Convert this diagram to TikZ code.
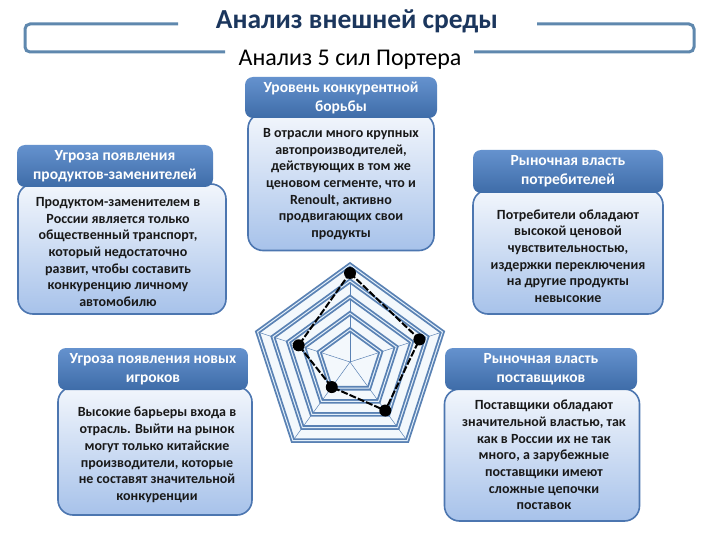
\documentclass[tikz,border=0pt]{standalone}
\usepackage{fontspec}
\setmainfont{Carlito}
\definecolor{framec}{HTML}{5F88AE}
\definecolor{titlec}{HTML}{1B365D}
\definecolor{hdrtop}{HTML}{6592CE}
\definecolor{hdrbot}{HTML}{3E6CA8}
\definecolor{bodytop}{HTML}{F2F6FC}
\definecolor{bodybot}{HTML}{A7C2EA}
\definecolor{bodyline}{HTML}{4C76B0}
\definecolor{ringc}{HTML}{5A82B4}
\definecolor{ringl}{HTML}{E4F0FA}
\definecolor{radfill}{HTML}{F3F8FC}
\tikzset{
  frameline/.style={draw=framec, line width=3pt, rounded corners=5pt},
  hdrbox/.style={rounded corners=8pt, top color=hdrtop, bottom color=hdrbot, draw=none,
    text=white, font=\bfseries\fontsize{15.5}{19}\selectfont, align=center,
    inner sep=0pt},
  bodybox/.style={rounded corners=15pt, top color=bodytop, bottom color=bodybot,
    draw=bodyline, line width=1.6pt, inner sep=0pt},
  bodytxt/.style={font=\bfseries\fontsize{14}{16.7}\selectfont, align=center,
    text=black!90, inner sep=0pt},
  ring/.style={draw=ringc, line width=1.8pt, double=ringl, double distance=1pt},
  spoke/.style={draw=ringc, line width=0.5pt},
  dataline/.style={draw=black, line width=2pt, dash pattern=on 7pt off 2pt},
  dot/.style={circle, fill=black, minimum size=12pt, inner sep=0pt}
}
\begin{document}
\begin{tikzpicture}[x=1pt,y=-1pt]
\useasboundingbox (0,0) rectangle (720,540);
\fill[white] (0,0) rectangle (720,540);
% header frame
\draw[frameline] (178,24) -- (25,24) -- (25,52) -- (225,52);
\draw[frameline] (537,24) -- (694,24) -- (694,52) -- (474,52);
\node[text=titlec, font=\bfseries\fontsize{27.5}{30}\selectfont] (title) at (357,21) {Анализ внешней среды};
\node[text=black, font=\fontsize{24}{26}\selectfont] (subtitle) at (350,60) {Анализ 5 сил Портера};

% radar
\begin{scope}[shift={(350,362)}]
  \fill[radfill] (90:97.2pt) -- (18:97.2pt) -- (-54:97.2pt) -- (-126:97.2pt) -- (162:97.2pt) -- cycle;
  \coordinate (rc) at (0,0);
  \foreach \a [count=\i] in {90,18,-54,-126,162} {
    \coordinate (v\i) at (\a:97.2pt);
    \draw[spoke] (rc) -- (v\i);
  }
  \foreach \r in {32.4,48.6,64.8,81,97.2} {
    \draw[ring] (90:\r pt) -- (18:\r pt) -- (-54:\r pt) -- (-126:\r pt) -- (162:\r pt) -- cycle;
  }
  \coordinate (p1) at (90:89pt);
  \coordinate (p2) at (18:73pt);
  \coordinate (p3) at (-54:60pt);
  \coordinate (p4) at (-126:31pt);
  \coordinate (p5) at (162:54pt);
  \draw[dataline] (p1) -- (p2) -- (p3) -- (p4) -- (p5) -- cycle;
  \foreach \i in {1,...,5} { \node[dot] (d\i) at (p\i) {}; }
\end{scope}

% top centre box
\node[bodybox, minimum width=186pt, minimum height=137pt] (b1) at (341,182) {};
\node[hdrbox, minimum width=192pt, minimum height=41pt] (h1) at (341,97.5) {Уровень конкурентной\\борьбы};
\node[bodytxt] (t1) at (341,184) {В отрасли много крупных\\автопроизводителей,\\действующих в том же\\ценовом сегменте, что и\\Renoult, активно\\продвигающих свои\\продукты};

% left top box
\node[bodybox, minimum width=208pt, minimum height=130pt] (b2) at (122,249) {};
\node[hdrbox, minimum width=196pt, minimum height=42pt] (h2) at (115,166) {Угроза появления\\продуктов-заменителей};
\node[bodytxt] (t2) at (118,252) {Продуктом-заменителем в\\России является только\\общественный транспорт,\\который недостаточно\\развит, чтобы составить\\конкуренцию личному\\автомобилю};

% right top box
\node[bodybox, minimum width=190pt, minimum height=124pt] (b3) at (568,252) {};
\node[hdrbox, minimum width=190pt, minimum height=43pt] (h3) at (568,171.5) {Рыночная власть\\потребителей};
\node[bodytxt] (t3) at (568,256) {Потребители обладают\\высокой ценовой\\чувствительностью,\\издержки переключения\\на другие продукты\\невысокие};

% left bottom box
\node[bodybox, minimum width=194pt, minimum height=128pt] (b4) at (155,451) {};
\node[hdrbox, minimum width=190pt, minimum height=42pt] (h4) at (153,369) {Угроза появления новых\\игроков};
\node[bodytxt] (t4) at (157,455) {Высокие барьеры входа в\\отрасль. Выйти на рынок\\могут только китайские\\производители, которые\\не составят значительной\\конкуренции};

% right bottom box
\node[bodybox, minimum width=195pt, minimum height=132pt] (b5) at (542,455) {};
\node[hdrbox, minimum width=192pt, minimum height=42pt] (h5) at (541,369) {Рыночная власть\\поставщиков};
\node[bodytxt] (t5) at (544,455) {Поставщики обладают\\значительной властью, так\\как в России их не так\\много, а зарубежные\\поставщики имеют\\сложные цепочки\\поставок};
\end{tikzpicture}
\end{document}
